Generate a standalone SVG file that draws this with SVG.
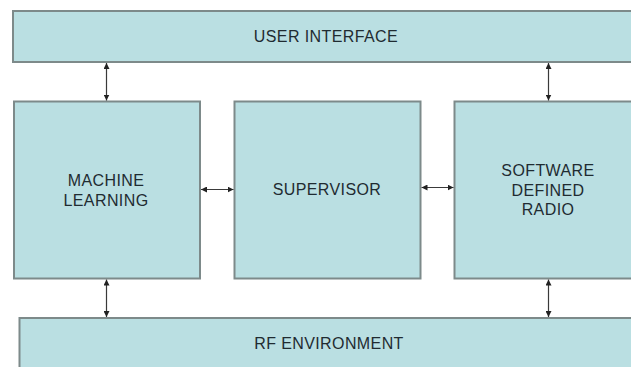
<svg xmlns="http://www.w3.org/2000/svg" width="631" height="367" viewBox="0 0 631 367">
<style>
.box{fill:#badfe2;stroke:#7d8a8a;stroke-width:2}
.lbl{font-family:"Liberation Sans",Arial,sans-serif;font-size:16px;fill:#1f2b31;text-anchor:middle;dominant-baseline:central;letter-spacing:0.4px}
.con{stroke:#3a3a3a;stroke-width:1.2;fill:none;marker-start:url(#ah);marker-end:url(#ah)}
</style>
<defs>
<marker id="ah" viewBox="0 0 10 10" refX="10" refY="5" markerWidth="6" markerHeight="6" markerUnits="userSpaceOnUse" orient="auto-start-reverse">
<path d="M0,0 L10,5 L0,10 z" fill="#222"/>
</marker>
</defs>
<rect width="631" height="367" fill="#ffffff"/>
<g id="user-interface">
<rect class="box" x="13" y="11" width="630" height="51"/>
<text class="lbl" x="326" y="36">USER INTERFACE</text>
</g>
<g id="machine-learning">
<rect class="box" x="14" y="101.5" width="186" height="177"/>
<text class="lbl" x="106" y="180">MACHINE</text>
<text class="lbl" x="106" y="200">LEARNING</text>
</g>
<g id="supervisor">
<rect class="box" x="234.5" y="101.5" width="186" height="177"/>
<text class="lbl" x="327" y="189">SUPERVISOR</text>
</g>
<g id="software-defined-radio">
<rect class="box" x="454.5" y="101.5" width="190" height="177"/>
<text class="lbl" x="548" y="170">SOFTWARE</text>
<text class="lbl" x="548" y="190">DEFINED</text>
<text class="lbl" x="548" y="209">RADIO</text>
</g>
<g id="rf-environment">
<rect class="box" x="19.5" y="318" width="630" height="60"/>
<text class="lbl" x="329" y="343">RF ENVIRONMENT</text>
</g>
<g id="connectors">
<line class="con" x1="106.5" y1="63" x2="106.5" y2="100.5"/>
<line class="con" x1="548.5" y1="63" x2="548.5" y2="100.5"/>
<line class="con" x1="106.5" y1="279.5" x2="106.5" y2="317"/>
<line class="con" x1="548.5" y1="279.5" x2="548.5" y2="317"/>
<line class="con" x1="201" y1="189.5" x2="233.5" y2="189.5"/>
<line class="con" x1="421.5" y1="187.5" x2="453.5" y2="187.5"/>
</g>
</svg>
